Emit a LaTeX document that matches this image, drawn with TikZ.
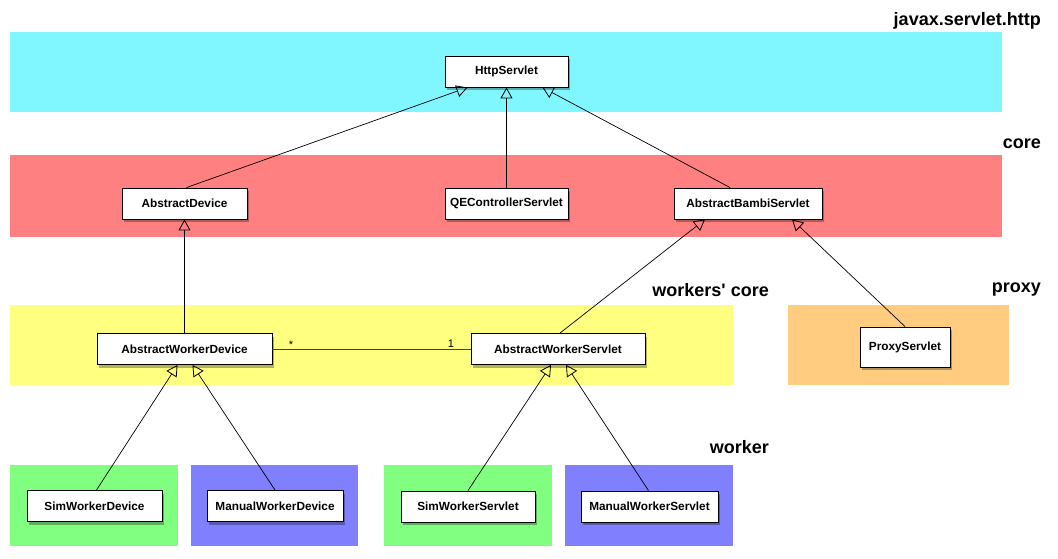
\documentclass[tikz,border=0pt]{standalone}
\usepackage{fontspec}
\setmainfont{Liberation Sans}
\usetikzlibrary{arrows.meta,shadows}
\definecolor{bcyan}{HTML}{80F6FF}
\definecolor{bred}{HTML}{FF8080}
\definecolor{byellow}{HTML}{FFFF80}
\definecolor{borange}{HTML}{FFCC80}
\definecolor{bgreen}{HTML}{80FF80}
\definecolor{bblue}{HTML}{8080FF}
\begin{document}
\begin{tikzpicture}[x=1pt,y=-1pt,
  cls/.style={draw=black, fill=white, line width=0.9pt, font=\bfseries\fontsize{11.8}{13}\selectfont,
    inner sep=0pt, minimum height=31pt,
    drop shadow={shadow xshift=1.5pt, shadow yshift=-3pt, opacity=0.3, fill=black}},
  pkg/.style={font=\bfseries\fontsize{18}{20}\selectfont, inner sep=0pt},
  inh/.style={draw=black, line width=0.7pt, -{Triangle[open, length=11pt, width=12pt, line width=0.8pt]}},
  assoc/.style={draw=black!85!yellow, line width=0.8pt},
  mult/.style={font=\fontsize{11}{12}\selectfont, inner sep=0pt}
]
\useasboundingbox (0,0) rectangle (1058,558);
\fill[white] (0,0) rectangle (1058,558);
% bands
\fill[bcyan] (10,32) rectangle (1002,112);
\fill[bred] (10,155) rectangle (1002,237);
\fill[byellow] (10,305) rectangle (733,385);
\fill[borange] (788,305) rectangle (1009,385);
\fill[bgreen] (10,465) rectangle (178,546);
\fill[bblue] (191,465) rectangle (358,546);
\fill[bgreen] (384,465) rectangle (552,546);
\fill[bblue] (565,465) rectangle (733,546);
% package labels
\node[pkg, anchor=east] (lhttp) at (1041,21) {javax.servlet.http};
\node[pkg, anchor=east] (lcore) at (1041,144) {core};
\node[pkg, anchor=east] (lwcore) at (769,290) {workers\textquotesingle{} core};
\node[pkg, anchor=east] (lproxy) at (1041,290) {proxy};
\node[pkg, anchor=east] (lworker) at (769,447) {worker};
% classes
\node[cls, minimum width=123pt] (http) at (506.5,71.5) {HttpServlet};
\node[cls, minimum width=125pt] (adev) at (184.5,203.5) {AbstractDevice};
\node[cls, minimum width=123pt] (qe) at (506.5,203.5) {QEControllerServlet};
\node[cls, minimum width=148pt] (bambi) at (748,203.5) {AbstractBambiServlet};
\node[cls, minimum width=175pt] (awd) at (184.5,349) {AbstractWorkerDevice};
\node[cls, minimum width=174pt] (aws) at (558,349) {AbstractWorkerServlet};
\node[cls, minimum width=90pt, minimum height=40pt] (proxy) at (905,347) {ProxyServlet};
\node[cls, minimum width=135pt] (swd) at (94.5,506) {SimWorkerDevice};
\node[cls, minimum width=136pt] (mwd) at (275,506) {ManualWorkerDevice};
\node[cls, minimum width=134pt] (sws) at (468,506.5) {SimWorkerServlet};
\node[cls, minimum width=137pt] (mws) at (649.5,506.5) {ManualWorkerServlet};
% inheritance
\draw[inh] ([xshift=2pt]adev.north) -- ([xshift=-39pt]http.south);
\draw[inh] (qe.north) -- (http.south);
\draw[inh] ([xshift=-18pt]bambi.north) -- ([xshift=36pt]http.south);
\draw[inh] (awd.north) -- (adev.south);
\draw[inh] ([xshift=2pt]aws.north) -- ([xshift=-43pt]bambi.south);
\draw[inh] (proxy.north) -- ([xshift=44pt]bambi.south);
\draw[inh] ([xshift=2pt]swd.north) -- ([xshift=-7pt]awd.south);
\draw[inh] (mwd.north) -- ([xshift=8pt]awd.south);
\draw[inh] (sws.north) -- ([xshift=-7pt]aws.south);
\draw[inh] ([xshift=-1pt]mws.north) -- ([xshift=8pt]aws.south);
% association
\draw[assoc] (awd.east) -- (aws.west);
\node[mult] (m1) at (291,345) {*};
\node[mult] (m2) at (451,344) {1};
\end{tikzpicture}
\end{document}
